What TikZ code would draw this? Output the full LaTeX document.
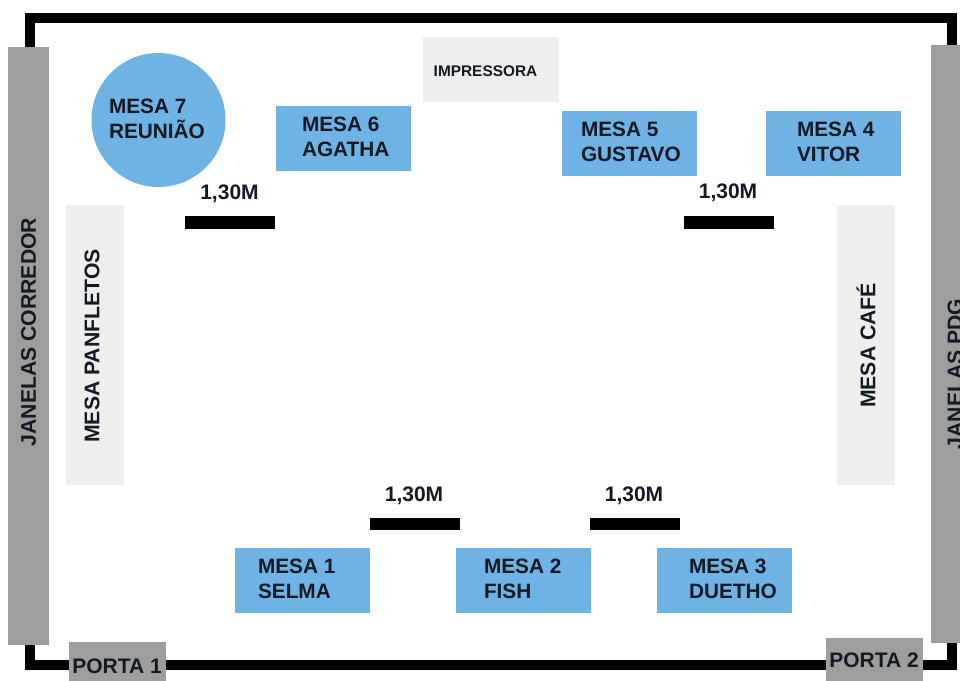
\documentclass[tikz,border=0pt]{standalone}
\usepackage{fontspec}
\setmainfont{Liberation Sans}
\definecolor{deskblue}{HTML}{6FB3E4}
\definecolor{wingray}{HTML}{9E9E9E}
\definecolor{paleg}{HTML}{EEEEEE}
\definecolor{ink}{HTML}{141A24}
\tikzset{
  every node/.style={font=\bfseries\fontsize{20.8}{25}\selectfont, text=ink, inner sep=0pt, outer sep=0pt},
  desk/.style={fill=deskblue, minimum width=135pt, minimum height=65pt, anchor=north west},
  desklabel/.style={align=left, anchor=west},
  winbox/.style={fill=wingray, anchor=north west},
  palebox/.style={fill=paleg, anchor=north west},
  wall/.style={draw=black, line width=10pt, line join=miter},
  gauge/.style={fill=black, minimum width=90pt, minimum height=12.5pt, anchor=north west},
  small/.style={font=\bfseries\fontsize{21}{25}\selectfont},
  vert/.style={rotate=90, font=\bfseries\fontsize{21.2}{25}\selectfont},
}
\begin{document}
\begin{tikzpicture}[x=1pt,y=-1pt]
\useasboundingbox (0,0) rectangle (960,680);
\clip (0,0) rectangle (960,680);
\fill[white] (0,0) rectangle (960,680);
% wall anchors
\coordinate (wlt) at (30,18);
\coordinate (wrt) at (952,18);
\coordinate (wrb) at (952,665);
\coordinate (wll) at (30,665);
\draw[wall] (wrb) -- (wrt) -- (wlt) -- (wll) -- cycle;
% windows
\node[winbox, minimum width=41pt, minimum height=598.5pt] (jc) at (8,46.5) {};
\node[vert] (jct) at (28.5,332) {JANELAS CORREDOR};
\node[winbox, minimum width=40pt, minimum height=598pt] (jp) at (931,45) {};
\node[vert] (jpt) at (955,374) {JANELAS PDG};
% doors
\node[winbox, minimum width=97pt, minimum height=40pt] (p1) at (69,642) {};
\node[small] (p1t) at (117,666) {PORTA 1};
\node[winbox, minimum width=97pt, minimum height=44pt] (p2) at (825.5,638) {};
\node[small] (p2t) at (874,660.5) {PORTA 2};
% pale furniture
\node[palebox, minimum width=136pt, minimum height=65pt] (imp) at (422.5,36.5) {};
\node[font=\bfseries\fontsize{15.4}{18}\selectfont] (impt) at (485.5,71) {IMPRESSORA};
\node[palebox, minimum width=58pt, minimum height=280pt] (pan) at (66,205) {};
\node[vert] (pant) at (92,346) {MESA PANFLETOS};
\node[palebox, minimum width=58pt, minimum height=280pt] (caf) at (837,204.5) {};
\node[vert] (caft) at (866,345.5) {MESA CAFÉ};
% round table
\node[circle, fill=deskblue, minimum size=134pt] (m7) at (158.5,120) {};
\node[desklabel] (m7t) at (109,118.5) {MESA 7\\REUNIÃO};
% desks
\node[desk] (m6) at (275.5,106) {};
\node[desklabel] (m6t) at (302,137) {MESA 6\\AGATHA};
\node[desk] (m5) at (562,111) {};
\node[desklabel] (m5t) at (581,142) {MESA 5\\GUSTAVO};
\node[desk] (m4) at (766,111) {};
\node[desklabel] (m4t) at (797,142) {MESA 4\\VITOR};
\node[desk] (m1) at (235,548) {};
\node[desklabel] (m1t) at (258,579) {MESA 1\\SELMA};
\node[desk] (m2) at (456,548) {};
\node[desklabel] (m2t) at (484,579) {MESA 2\\FISH};
\node[desk] (m3) at (657,548) {};
\node[desklabel] (m3t) at (689,579) {MESA 3\\DUETHO};
% gauges
\node[gauge] (g1) at (185,216) {};
\node[small] (g1t) at (229.5,194) {1,30M};
\node[gauge] (g2) at (684,216) {};
\node[small] (g2t) at (728,193) {1,30M};
\node[gauge] (g3) at (370,517.5) {};
\node[small] (g3t) at (414,495.5) {1,30M};
\node[gauge] (g4) at (590,517.5) {};
\node[small] (g4t) at (634,495.5) {1,30M};
\end{tikzpicture}
\end{document}
